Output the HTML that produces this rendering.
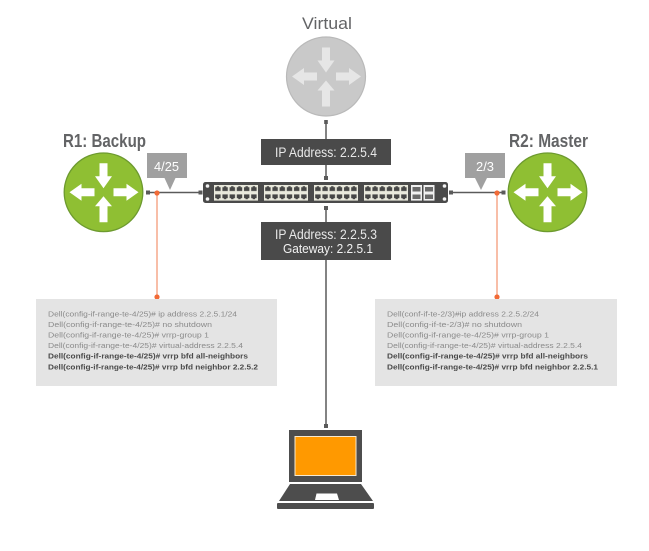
<!DOCTYPE html>
<html>
<head>
<meta charset="utf-8">
<style>
html,body{margin:0;padding:0;background:#fff}
svg{display:block;filter:blur(.25px)}
text{font-family:"Liberation Sans",sans-serif}
.t{font-size:18px;fill:#636466;font-weight:bold;stroke:none}
.c{font-size:7.5px;fill:#8a8a8a}
.b{font-size:7.5px;fill:#4a4a4a;font-weight:bold}
.l{font-size:13.5px;fill:#e8e8e8}
.g{font-size:12.5px;fill:#f2f2f2}
</style>
</head>
<body>
<svg width="649" height="551" viewBox="0 0 649 551" xmlns="http://www.w3.org/2000/svg">
<defs>
<g id="arr">
<path d="M-4-29H4V-16H8.5L0-4-8.5-16H-4Z"/>
<path d="M-9-4V4H-22V8.5L-34 0-22-8.5V-4Z"/>
<path d="M10-4V4H23V8.5L35 0 23-8.500V-4Z"/>
<path d="M-4 30H4V14H8.5L0 4-8.5 14H-4Z"/>
</g>
<pattern id="ports" x="0" y="0" width="7.2" height="15.600" patternUnits="userSpaceOnUse">
<rect x="1" y="2.200" width="5.400" height="3.800" fill="#454545"/>
<rect x="2.500" y="1.200" width="2.400" height="1.200" fill="#454545"/>
<rect x="1" y="9.400" width="5.400" height="3.800" fill="#454545"/>
<rect x="2.500" y="13" width="2.400" height="1.200" fill="#454545"/>
</pattern>
</defs>

<rect width="649" height="551" fill="#fff"/>

<!-- connectors -->
<g fill="none" stroke="#5a5a5a" stroke-width="1.500">
<path d="M326 120V139M326 165V178M326 208V222M326 260V426"/>
<path d="M148 192.500H201M451 192.500H503"/>
</g>
<g fill="#5a5a5a">
<rect x="324.200" y="120" width="3.600" height="4"/>
<rect x="324" y="176" width="4" height="4"/>
<rect x="324" y="206" width="4" height="4"/>
<rect x="324" y="424" width="4" height="4"/>
<rect x="146" y="190.500" width="4" height="4"/>
<rect x="198.500" y="190.500" width="4" height="4"/>
<rect x="449" y="190.500" width="4" height="4"/>
<rect x="501.500" y="190.500" width="4" height="4"/>
</g>

<!-- orange leaders -->
<path d="M157 193V297M497 193V297" stroke="#f4a283" stroke-width="1.400" fill="none"/>
<g fill="#f26a36">
<circle cx="157" cy="193" r="2.600"/><circle cx="497" cy="193" r="2.600"/>
<circle cx="157" cy="297" r="2.600"/><circle cx="497" cy="297" r="2.600"/>
</g>

<!-- routers -->
<circle cx="326" cy="76.500" r="39.500" fill="#c9c9c9" stroke="#b9b9b9" stroke-width="1.200"/>
<use href="#arr" x="326" y="76.500" fill="#e6e6e6"/>
<circle cx="103.500" cy="192.300" r="39.300" fill="#8fbf33" stroke="#6d9a2f" stroke-width="1.300"/>
<use href="#arr" x="103.500" y="192.300" fill="#fff"/>
<circle cx="547.500" cy="192.300" r="39.300" fill="#8fbf33" stroke="#6d9a2f" stroke-width="1.300"/>
<use href="#arr" x="547.500" y="192.300" fill="#fff"/>

<!-- titles -->
<text class="t" x="302" y="29" textLength="50" lengthAdjust="spacingAndGlyphs" style="font-weight:normal;font-size:17px">Virtual</text>
<text class="t" x="63" y="147" textLength="83" lengthAdjust="spacingAndGlyphs">R1: Backup</text>
<text class="t" x="509" y="147" textLength="79" lengthAdjust="spacingAndGlyphs">R2: Master</text>

<!-- port tags -->
<path d="M147 153H187V178H175.500L170 190 164.500 178H147Z" fill="#a0a0a0"/>
<path d="M465 153H505V178H487L481 190 475 178H465Z" fill="#a0a0a0"/>
<text x="154" y="171" font-size="12.500" fill="#fff" textLength="25" lengthAdjust="spacingAndGlyphs">4/25</text>
<text x="476" y="171" font-size="12.500" fill="#fff" textLength="18" lengthAdjust="spacingAndGlyphs">2/3</text>

<!-- switch -->
<rect x="203" y="182" width="245" height="21" rx="2.500" fill="#4a4a4a"/>
<g fill="#e9e9dc">
<rect x="214" y="185" width="44" height="15.600"/>
<rect x="264" y="185" width="44" height="15.600"/>
<rect x="314" y="185" width="44" height="15.600"/>
<rect x="364" y="185" width="44" height="15.600"/>
<rect x="411" y="185" width="11" height="15.600" fill="#f0f0f0"/>
<rect x="423.500" y="185" width="11" height="15.600" fill="#f0f0f0"/>
</g>
<g fill="url(#ports)">
<g transform="translate(214.200 185)"><rect width="43.200" height="15.600"/></g>
<g transform="translate(264.200 185)"><rect width="43.200" height="15.600"/></g>
<g transform="translate(314.200 185)"><rect width="43.200" height="15.600"/></g>
<g transform="translate(364.200 185)"><rect width="43.200" height="15.600"/></g>
</g>
<g fill="#6a6a6a">
<rect x="412.500" y="187" width="8" height="4.500"/><rect x="412.500" y="194.500" width="8" height="4.500"/>
<rect x="425" y="187" width="8" height="4.500"/><rect x="425" y="194.500" width="8" height="4.500"/>
</g>
<g fill="#f4f4f4">
<circle cx="207.500" cy="186" r="1.800"/><circle cx="207.500" cy="199" r="1.800"/>
<circle cx="444.500" cy="186" r="1.800"/><circle cx="444.500" cy="199" r="1.800"/>
</g>

<!-- address boxes -->
<rect x="261" y="139" width="130" height="26" fill="#4a4a4a"/>
<text class="l" x="275" y="157" textLength="102" lengthAdjust="spacingAndGlyphs">IP Address: 2.2.5.4</text>
<rect x="261" y="222" width="130" height="38" fill="#4a4a4a"/>
<text class="l" x="275" y="239" textLength="102" lengthAdjust="spacingAndGlyphs">IP Address: 2.2.5.3</text>
<text class="g" x="283" y="253" textLength="90" lengthAdjust="spacingAndGlyphs">Gateway: 2.2.5.1</text>

<!-- config boxes -->
<rect x="36" y="299" width="241" height="87" fill="#e4e4e4"/>
<rect x="375" y="299" width="242" height="87" fill="#e4e4e4"/>

<text class="c" x="48" y="316.500" textLength="189" lengthAdjust="spacingAndGlyphs">Dell(config-if-range-te-4/25)# ip address 2.2.5.1/24</text>
<text class="c" x="48" y="327" textLength="164" lengthAdjust="spacingAndGlyphs">Dell(config-if-range-te-4/25)# no shutdown</text>
<text class="c" x="48" y="337.500" textLength="161" lengthAdjust="spacingAndGlyphs">Dell(config-if-range-te-4/25)# vrrp-group 1</text>
<text class="c" x="48" y="348" textLength="195" lengthAdjust="spacingAndGlyphs">Dell(config-if-range-te-4/25)# virtual-address 2.2.5.4</text>
<text class="b" x="48" y="358.500" textLength="200" lengthAdjust="spacingAndGlyphs">Dell(config-if-range-te-4/25)# vrrp bfd all-neighbors</text>
<text class="b" x="48" y="369.500" textLength="210" lengthAdjust="spacingAndGlyphs">Dell(config-if-range-te-4/25)# vrrp bfd neighbor 2.2.5.2</text>

<text class="c" x="387" y="316.500" textLength="152" lengthAdjust="spacingAndGlyphs">Dell(conf-if-te-2/3)#ip address 2.2.5.2/24</text>
<text class="c" x="387" y="327" textLength="135" lengthAdjust="spacingAndGlyphs">Dell(config-if-te-2/3)# no shutdown</text>
<text class="c" x="387" y="337.500" textLength="162" lengthAdjust="spacingAndGlyphs">Dell(config-if-range-te-4/25)# vrrp-group 1</text>
<text class="c" x="387" y="348" textLength="195" lengthAdjust="spacingAndGlyphs">Dell(config-if-range-te-4/25)# virtual-address 2.2.5.4</text>
<text class="b" x="387" y="358.500" textLength="201" lengthAdjust="spacingAndGlyphs">Dell(config-if-range-te-4/25)# vrrp bfd all-neighbors</text>
<text class="b" x="387" y="369.500" textLength="211" lengthAdjust="spacingAndGlyphs">Dell(config-if-range-te-4/25)# vrrp bfd neighbor 2.2.5.1</text>

<!-- laptop -->
<rect x="289" y="430" width="73" height="52" fill="#4d4d4d"/>
<rect x="295" y="436.500" width="61" height="39" fill="#ff9900" stroke="#f7e9cf" stroke-width="1"/>
<path d="M290 484H361L373 501H279Z" fill="#4d4d4d"/>
<path d="M316.500 493.500H337L339 500H315Z" fill="#fff"/>
<rect x="277" y="503" width="97" height="6" rx="1" fill="#4d4d4d"/>
</svg>
</body>
</html>
